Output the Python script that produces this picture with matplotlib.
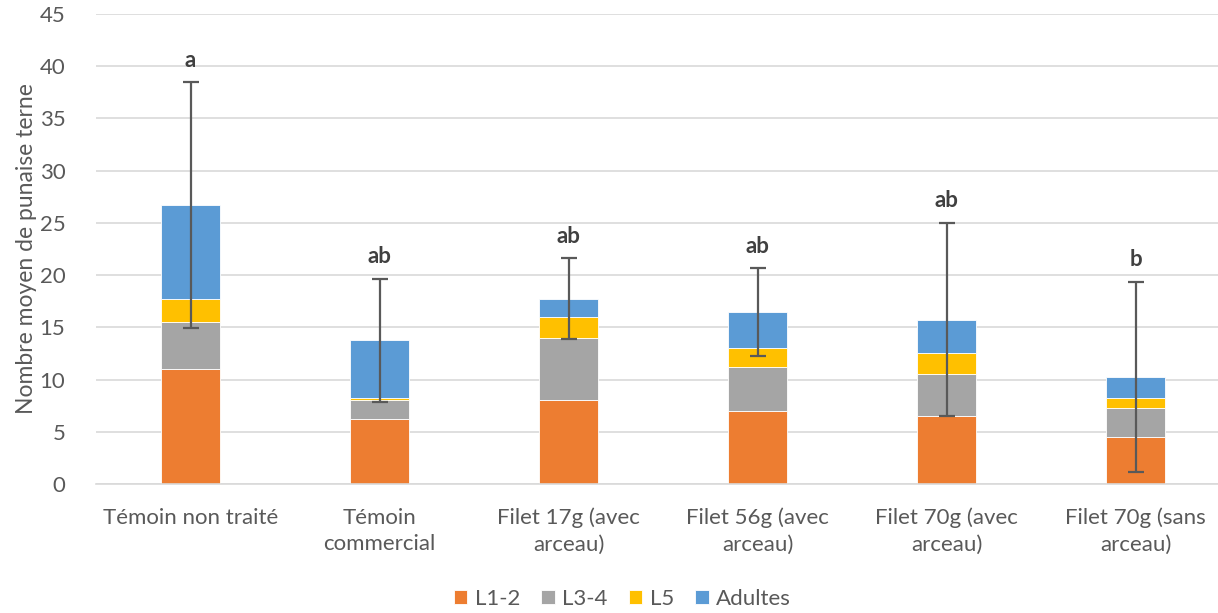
import matplotlib.pyplot as plt
import numpy as np

categories = [
    "Témoin non traité",
    "Témoin\ncommercial",
    "Filet 17g (avec\narceau)",
    "Filet 56g (avec\narceau)",
    "Filet 70g (avec\narceau)",
    "Filet 70g (sans\narceau)",
]
series_names = ["L1-2", "L3-4", "L5", "Adultes"]
l12 = [11.0, 6.25, 8.0, 7.0, 6.5, 4.5]
l34 = [4.5, 1.75, 6.0, 4.2, 4.0, 2.75]
l5 = [2.25, 0.25, 2.0, 1.8, 2.0, 1.0]
adultes = [8.95, 5.5, 1.75, 3.45, 3.25, 2.0]
err = [11.75, 5.9, 3.85, 4.2, 9.25, 9.1]
letters = ["a", "ab", "ab", "ab", "ab", "b"]

colors = ["#ED7D31", "#A5A5A5", "#FFC000", "#5B9BD5"]
text_col = "#595959"

plt.rcParams["font.family"] = ["Lato", "DejaVu Sans"]

fig = plt.figure(figsize=(12.18, 6.13), dpi=100)
ax = fig.add_axes([96 / 1218, 129 / 613, 1 - 96 / 1218, (484 - 14) / 613])

x = np.arange(len(categories))
width = 0.31
bottom = np.zeros(len(categories))
for vals, name, col in zip([l12, l34, l5, adultes], series_names, colors):
    ax.bar(x, vals, width, bottom=bottom, color=col, label=name,
           edgecolor="white", linewidth=0.6, zorder=2)
    bottom = bottom + np.array(vals)

totals = bottom
ax.errorbar(x, totals, yerr=err, fmt="none", ecolor="#595959",
            elinewidth=1.6, capsize=6, capthick=1.6, zorder=3)
for xi, t, e, lab in zip(x, totals, err, letters):
    ax.text(xi, t + e + 1.1, lab, ha="center", va="bottom",
            fontsize=16, fontweight="bold", color="#404040")

ax.set_ylim(0, 45)
ax.set_yticks(np.arange(0, 46, 5))
ax.set_xlim(-0.5, (1218 - 96) / 189 - 0.5)
ax.set_xticks(x)
ax.set_xticklabels(categories, fontsize=16, color=text_col, linespacing=1.4)
ax.tick_params(axis="y", labelsize=16, labelcolor=text_col, length=0, pad=22)
ax.tick_params(axis="x", length=0, pad=17)
ax.yaxis.grid(True, color="#D9D9D9", linewidth=1.2, zorder=0)
ax.set_axisbelow(True)
for s in ["top", "right", "left"]:
    ax.spines[s].set_visible(False)
ax.spines["bottom"].set_color("#D9D9D9")
ax.spines["bottom"].set_linewidth(1.2)
fig.text(27 / 1218, 1 - 249 / 613, "Nombre moyen de punaise terne", rotation=90,
         ha="center", va="center", fontsize=16.5, color=text_col)

fig.legend(loc="lower center", bbox_to_anchor=(0.511, -0.026), ncol=4, frameon=False,
           fontsize=16, labelcolor=text_col, handlelength=0.6, handleheight=0.6,
           handletextpad=0.35, columnspacing=0.95)

fig.savefig("out.png", dpi=100)
